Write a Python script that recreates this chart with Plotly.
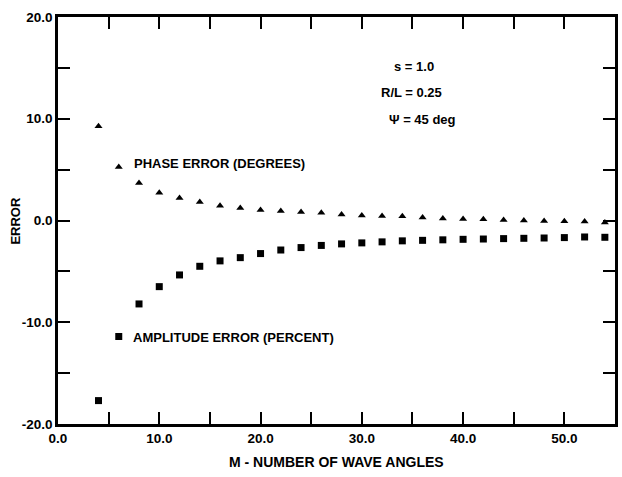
import plotly.graph_objects as go

M = [4, 6, 8, 10, 12, 14, 16, 18, 20, 22, 24, 26, 28, 30, 32, 34, 36, 38, 40, 42, 44, 46, 48, 50, 52, 54]
phase_error = [9.26, 5.25, 3.68, 2.73, 2.2, 1.81, 1.45, 1.23, 1.03, 0.93, 0.83, 0.76, 0.6, 0.5,
               0.45, 0.42, 0.3, 0.2, 0.15, 0.12, 0.05, 0.0, -0.05, -0.08, -0.1, -0.2]
amplitude_error = [-17.7, -11.4, -8.2, -6.5, -5.35, -4.5, -3.97, -3.65, -3.25, -2.9, -2.66, -2.45, -2.3,
                   -2.2, -2.1, -2.0, -1.95, -1.9, -1.85, -1.82, -1.78, -1.75, -1.72, -1.68, -1.62, -1.65]

x_tickvals = [0, 5, 10, 15, 20, 25, 30, 35, 40, 45, 50, 55]
x_ticktext = ["0.0", "", "10.0", "", "20.0", "", "30.0", "", "40.0", "", "50.0", ""]
y_tickvals = [-20, -15, -10, -5, 0, 5, 10, 15, 20]
y_ticktext = ["-20.0", "", "-10.0", "", "0.0", "", "10.0", "", "20.0"]

FONT = "Liberation Sans"

fig = go.Figure()
fig.add_trace(go.Scatter(x=M, y=phase_error, mode="markers",
                         marker=dict(symbol="triangle-up", size=7, color="black"),
                         showlegend=False))
fig.add_trace(go.Scatter(x=M, y=amplitude_error, mode="markers",
                         marker=dict(symbol="square", size=7, color="black"),
                         showlegend=False))

axis_common = dict(showline=True, linecolor="black", linewidth=2.5, mirror="ticks",
                   ticks="inside", ticklen=12, tickwidth=2, tickcolor="black",
                   showgrid=False, zeroline=False,
                   tickfont=dict(family=FONT, size=13.5, color="black", weight="bold"))

fig.update_xaxes(range=[0, 55], tickmode="array", tickvals=x_tickvals, ticktext=x_ticktext, **axis_common)
fig.update_yaxes(range=[-20, 20], tickmode="array", tickvals=y_tickvals, ticktext=y_ticktext, **axis_common)

tf = dict(family=FONT, size=13, color="black", weight="bold")
tf_x = dict(family=FONT, size=14, color="black", weight="bold")
annotations = [
    dict(x=35.2, y=15.1, xref="x", yref="y", text="s = 1.0", showarrow=False, font=tf),
    dict(x=34.9, y=12.6, xref="x", yref="y", text="R/L = 0.25", showarrow=False, font=tf),
    dict(x=36.0, y=9.95, xref="x", yref="y", text="Ψ = 45 deg", showarrow=False, font=tf),
    dict(x=7.35, y=5.64, xref="x", yref="y", text="PHASE ERROR (DEGREES)", showarrow=False,
         xanchor="left", yanchor="middle", font=tf),
    dict(x=7.25, y=-11.5, xref="x", yref="y", text="AMPLITUDE ERROR (PERCENT)", showarrow=False,
         xanchor="left", yanchor="middle", font=tf),
    dict(x=0.5, y=-0.093, xref="paper", yref="paper", text="M - NUMBER OF WAVE ANGLES",
         showarrow=False, xanchor="center", yanchor="middle", font=tf_x),
    dict(x=-0.077, y=0.5, xref="paper", yref="paper", text="ERROR", textangle=-90,
         showarrow=False, xanchor="center", yanchor="middle", font=tf),
]

fig.update_layout(width=622, height=477,
                  margin=dict(l=58, r=4, t=17, b=53),
                  paper_bgcolor="white", plot_bgcolor="white",
                  annotations=annotations)

fig.write_html("out.html")
